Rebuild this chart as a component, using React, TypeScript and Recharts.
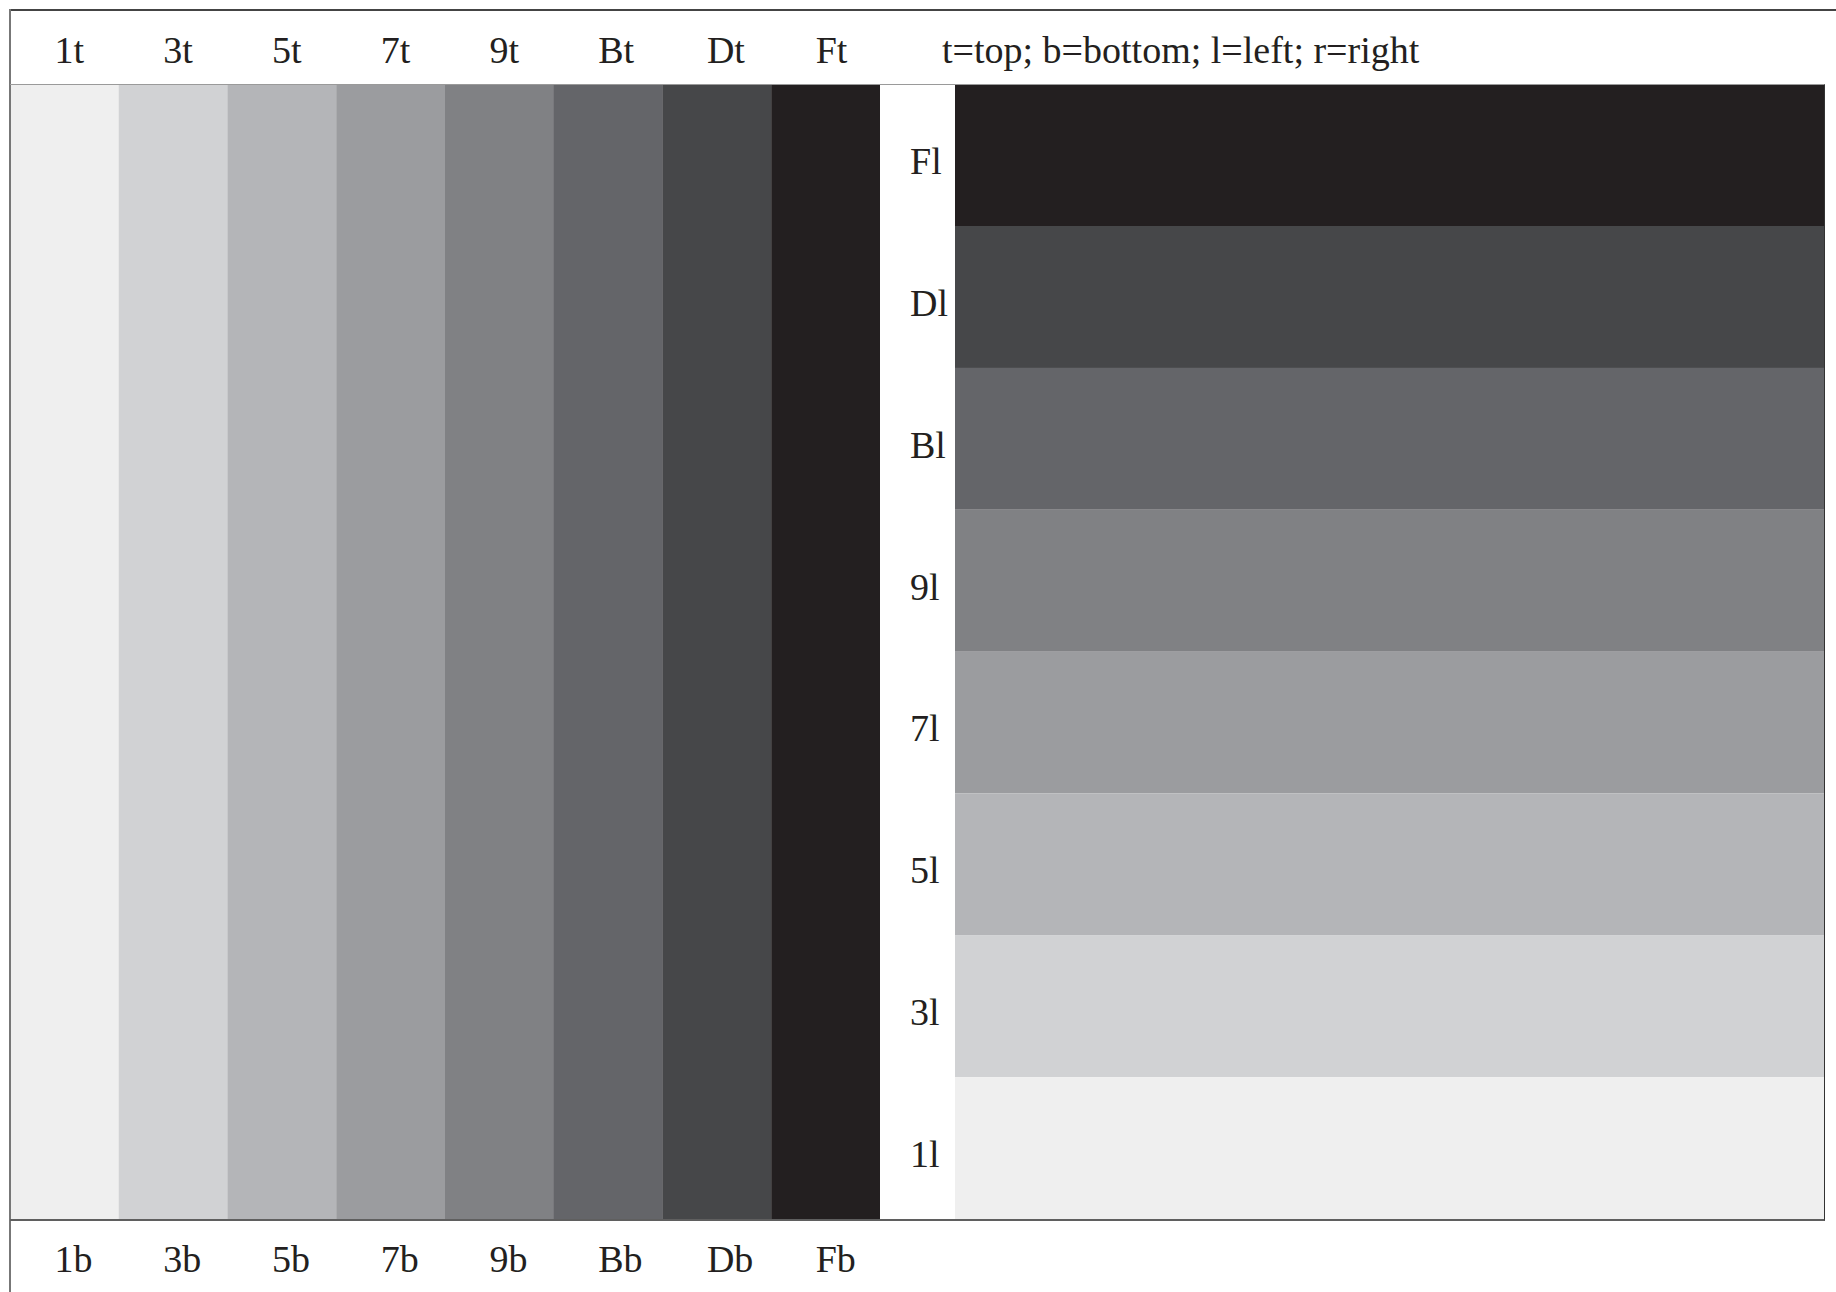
import { BarChart, Bar, XAxis, YAxis, Cell } from 'recharts'

// tint levels, lightest to darkest
const LEVELS = ['1', '3', '5', '7', '9', 'B', 'D', 'F']
const SHADES = ['#efefef', '#d1d2d4', '#b4b5b8', '#9b9c9f', '#808184', '#646569', '#464749', '#231f20']
const COVERAGE = [1, 1, 1, 1, 1, 1, 1, 1]
const NOTE = 't=top; b=bottom; l=left; r=right'

const FONT = '"Liberation Serif", "Times New Roman", serif'
const INK = '#231f20'
const FS = 38

const columns = LEVELS.map((level, i) => ({ level, value: COVERAGE[i], shade: SHADES[i] }))
const rows = [...columns].reverse()

// labels sit left-aligned a little before the band centre
function TopTick({ x, y, payload }: any) {
  return (
    <text x={x - 10} y={y - 21} textAnchor="start" fontFamily={FONT} fontSize={FS} fill={INK}>
      {payload.value}t
    </text>
  )
}

function BottomTick({ x, y, payload }: any) {
  return (
    <text x={x - 10} y={y + 53} textAnchor="start" fontFamily={FONT} fontSize={FS} fill={INK}>
      {payload.value}b
    </text>
  )
}

function LeftTick({ x, y, payload }: any) {
  return (
    <text x={x - 45} y={y + 19} textAnchor="start" fontFamily={FONT} fontSize={FS} fill={INK}>
      {payload.value}l
    </text>
  )
}

export default function App() {
  return (
    <div style={{ position: 'absolute', left: 0, top: 0, width: 1836, height: 1292, background: '#fff', overflow: 'hidden' }}>
      {/* vertical strips */}
      <div style={{ position: 'absolute', left: 10, top: 10 }}>
        <BarChart width={870} height={1282} data={columns} margin={{ top: 0, right: 0, bottom: 0, left: 0 }}
          barCategoryGap={0} barGap={0}>
          <XAxis xAxisId="top" dataKey="level" orientation="top" height={74}
            axisLine={false} tickLine={false} tickSize={0} tickMargin={0} tick={<TopTick />} interval={0} />
          <XAxis xAxisId="bottom" dataKey="level" orientation="bottom" height={73}
            axisLine={false} tickLine={false} tickSize={0} tickMargin={0} tick={<BottomTick />} interval={0} />
          <YAxis hide domain={[0, 1]} />
          <Bar xAxisId="top" dataKey="value" isAnimationActive={false}>
            {columns.map((d) => <Cell key={d.level} fill={d.shade} />)}
          </Bar>
        </BarChart>
      </div>

      {/* horizontal strips */}
      <div style={{ position: 'absolute', left: 880, top: 84 }}>
        <BarChart width={945} height={1135} data={rows} layout="vertical"
          margin={{ top: 0, right: 0, bottom: 0, left: 0 }} barCategoryGap={0} barGap={0}>
          <XAxis type="number" hide domain={[0, 1]} />
          <YAxis type="category" dataKey="level" width={75} axisLine={false} tickLine={false}
            tickSize={0} tickMargin={0} tick={<LeftTick />} interval={0} />
          <Bar dataKey="value" isAnimationActive={false}>
            {rows.map((d) => <Cell key={d.level} fill={d.shade} />)}
          </Bar>
        </BarChart>
      </div>

      <div style={{
        position: 'absolute', left: 942, top: 31, fontFamily: FONT, fontSize: FS,
        lineHeight: 1, color: INK, whiteSpace: 'nowrap',
      }}>
        {NOTE}
      </div>

      {/* frame */}
      <div style={{ position: 'absolute', left: 9, top: 9, width: 1827, height: 1.5, background: '#444' }} />
      <div style={{ position: 'absolute', left: 9, top: 9, width: 2, height: 1283, background: '#777' }} />
      <div style={{
        position: 'absolute', left: 10, top: 83.5, width: 1815, height: 1137, boxSizing: 'border-box',
        borderTop: '1px solid #9a9a9a', borderRight: '1.5px solid #333', borderBottom: '2px solid #5f5f5f',
      }} />
    </div>
  )
}
